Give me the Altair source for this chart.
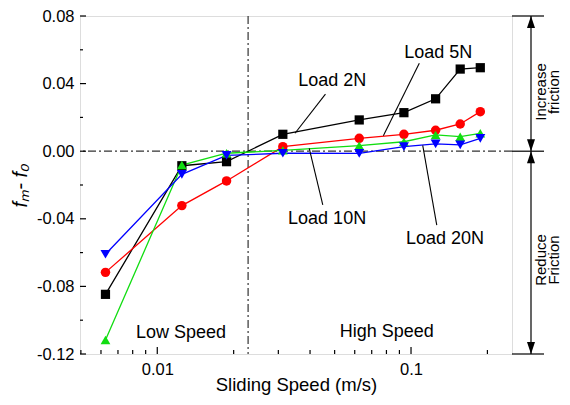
import altair as alt
import pandas as pd

# ---- data ----
speeds = [0.00625, 0.0125, 0.01875, 0.03125, 0.0625, 0.09375, 0.125, 0.15625, 0.1875]
load_2n = [-0.0847, -0.0086, -0.0062, 0.0100, 0.0185, 0.0228, 0.0310, 0.0486, 0.0494]
load_5n = [-0.0717, -0.0322, -0.0176, 0.0027, 0.0076, 0.0100, 0.0124, 0.0161, 0.0234]
load_10n = [-0.1117, -0.0082, -0.0012, 0.0005, 0.0033, 0.0056, 0.0096, 0.0086, 0.0106]
load_20n = [-0.0610, -0.0137, -0.0025, -0.0012, -0.0013, 0.0027, 0.0043, 0.0037, 0.0076]
series_names = ["Load 2N", "Load 5N", "Load 10N", "Load 20N"]
series_colors = ["#000000", "#ff0000", "#11dd11", "#0000ff"]
series_shapes = ["square", "circle", "triangle-up", "triangle-down"]
series_sizes = [85, 100, 125, 125]

x_domain = [0.00496, 0.25]
y_domain = [-0.12, 0.08]
x_label_values = [0.01, 0.1]
x_minor_values = [0.005, 0.006, 0.007, 0.008, 0.009, 0.02, 0.03, 0.04, 0.05,
                  0.06, 0.07, 0.08, 0.09, 0.2]
y_label_values = [-0.12, -0.08, -0.04, 0.0, 0.04, 0.08]
y_minor_values = [-0.10, -0.06, -0.02, 0.02, 0.06]
speed_boundary = 0.0228

# label annotations (data coordinates)
label_text = ["Load 2N", "Load 5N", "Load 10N", "Load 20N", "Low Speed", "High Speed"]
label_x = [0.0489, 0.128, 0.0467, 0.136, 0.0124, 0.0802]
label_y = [0.0415, 0.0579, -0.0403, -0.0521, -0.1074, -0.1068]
leader_x1 = [0.0349, 0.0778, 0.0397, 0.1112]
leader_y1 = [0.0106, 0.0092, 0.0017, 0.0035]
leader_x2 = [0.0460, 0.1078, 0.0449, 0.1263]
leader_y2 = [0.0338, 0.0520, -0.0318, -0.0437]

W, H = 432, 338

rows = []
for name, vals in zip(series_names, [load_2n, load_5n, load_10n, load_20n]):
    for s, v in zip(speeds, vals):
        rows.append({"x": s, "y": v, "series": name})
df = pd.DataFrame(rows)

xscale = alt.Scale(type="log", domain=x_domain, nice=False)
yscale = alt.Scale(domain=y_domain, nice=False, zero=False)

xaxis = alt.Axis(values=x_label_values, format="~g", ticks=False, tickSize=0,
                 domain=False, grid=False, labelFontSize=16.5, labelPadding=7,
                 labelColor="black", labelFlush=False, labelOverlap=False,
                 title="Sliding Speed (m/s)", titleFontSize=18.5,
                 titleFontWeight="normal", titleColor="black", titleY=30.5,
                 titleBaseline="middle")
yaxis = alt.Axis(values=y_label_values,
                 labelExpr="(datum.value < -0.0001 ? '-' : '') + format(abs(datum.value), '.2f')",
                 ticks=False, tickSize=0, domain=False, grid=False,
                 labelFontSize=16.5, labelPadding=6, labelColor="black",
                 labelFlush=False, labelOverlap=False,
                 title="fₘ- f₀", titleFontSize=20, titleFontStyle="italic",
                 titleFontWeight="normal", titleColor="black",
                 titleX=-60, titleY=H / 2, titleAngle=270, titleBaseline="middle")

X = alt.X("x:Q", scale=xscale, axis=xaxis)
Y = alt.Y("y:Q", scale=yscale, axis=yaxis)

color = alt.Color("series:N", scale=alt.Scale(domain=series_names, range=series_colors), legend=None)
shape = alt.Shape("series:N", scale=alt.Scale(domain=series_names, range=series_shapes), legend=None)
size = alt.Size("series:N", scale=alt.Scale(domain=series_names, range=series_sizes), legend=None)

base = alt.Chart(df)
lines = base.mark_line(strokeWidth=1.3).encode(x=X, y=Y, color=color, detail="series:N")
points = base.mark_point(filled=True, opacity=1).encode(x=X, y=Y, color=color, shape=shape, size=size)

# reference dash-dot lines
hline = alt.Chart(pd.DataFrame({"y": [0.0]})).mark_rule(
    color="#333", strokeWidth=1.2, strokeDash=[8, 3, 2, 3]).encode(y=Y)
vline = alt.Chart(pd.DataFrame({"x": [speed_boundary]})).mark_rule(
    color="#333", strokeWidth=1.2, strokeDash=[8, 3, 2, 3]).encode(x=X)

# inward ticks
xmaj = alt.Chart(pd.DataFrame({"x": x_label_values})).mark_rule(color="black", strokeWidth=1.2).encode(
    x=X, y=alt.value(H), y2=alt.value(H - 7))
xmin = alt.Chart(pd.DataFrame({"x": x_minor_values})).mark_rule(color="black", strokeWidth=1.2).encode(
    x=X, y=alt.value(H), y2=alt.value(H - 4))
ymaj = alt.Chart(pd.DataFrame({"y": y_label_values})).mark_rule(color="black", strokeWidth=1.2).encode(
    y=Y, x=alt.value(0), x2=alt.value(6))
ymin = alt.Chart(pd.DataFrame({"y": y_minor_values})).mark_rule(color="black", strokeWidth=1.2).encode(
    y=Y, x=alt.value(0), x2=alt.value(3))

# labels and leaders
labels = alt.Chart(pd.DataFrame({"x": label_x, "y": label_y, "t": label_text})).mark_text(
    fontSize=18, color="black", align="center", baseline="middle").encode(x=X, y=Y, text="t:N")
leaders = alt.Chart(pd.DataFrame({"x": leader_x1, "y": leader_y1, "x2": leader_x2, "y2": leader_y2})).mark_rule(
    color="black", strokeWidth=1.1).encode(x=X, y=Y, x2="x2:Q", y2="y2:Q")

# right-hand annotation
side_lines = alt.Chart(pd.DataFrame({"y": [y_domain[1], 0.0, y_domain[0]]})).mark_rule(
    color="black", strokeWidth=1.2).encode(y=Y, x=alt.value(W), x2=alt.value(W + 32))
shafts = alt.Chart(pd.DataFrame({"y": [y_domain[1], 0.0], "y2": [0.0, y_domain[0]]})).mark_rule(
    color="black", strokeWidth=1.2).encode(y=Y, y2="y2:Q", x=alt.value(W + 19))
up_heads = alt.Chart(pd.DataFrame({"y": [y_domain[1], 0.0]})).mark_point(
    shape="M0,0L0.667,2L-0.667,2Z", size=144, filled=True, color="black", opacity=1).encode(
    y=Y, x=alt.value(W + 19))
down_heads = alt.Chart(pd.DataFrame({"y": [0.0, y_domain[0]]})).mark_point(
    shape="M0,0L0.667,-2L-0.667,-2Z", size=144, filled=True, color="black", opacity=1).encode(
    y=Y, x=alt.value(W + 19))
inc_text = alt.Chart(pd.DataFrame({"a": [0]})).mark_text(
    fontSize=15, angle=270, lineBreak="\n", align="center", baseline="middle",
    lineHeight=13, color="black").encode(
    x=alt.value(W + 29), y=alt.value(76), text=alt.value("Increase\nfriction"))
red_text = alt.Chart(pd.DataFrame({"a": [0]})).mark_text(
    fontSize=15, angle=270, lineBreak="\n", align="center", baseline="middle",
    lineHeight=13, color="black").encode(
    x=alt.value(W + 29), y=alt.value(244), text=alt.value("Reduce\nFriction"))

chart = alt.layer(
    hline, vline, lines, points, xmaj, xmin, ymaj, ymin, labels, leaders,
    side_lines, shafts, up_heads, down_heads, inc_text, red_text
).properties(
    width=W, height=H,
    autosize=alt.AutoSizeParams(type="none"),
    padding={"left": 72, "top": 8, "right": 50, "bottom": 43},
    background="white",
).configure_view(
    stroke="black", strokeWidth=1.5
).configure(
    font="Liberation Sans"
).configure_axis(
    labelFont="Liberation Sans", titleFont="Liberation Sans"
).configure_text(font="Liberation Sans")

chart.save("out.html", embed_options={"renderer": "svg", "actions": False})
